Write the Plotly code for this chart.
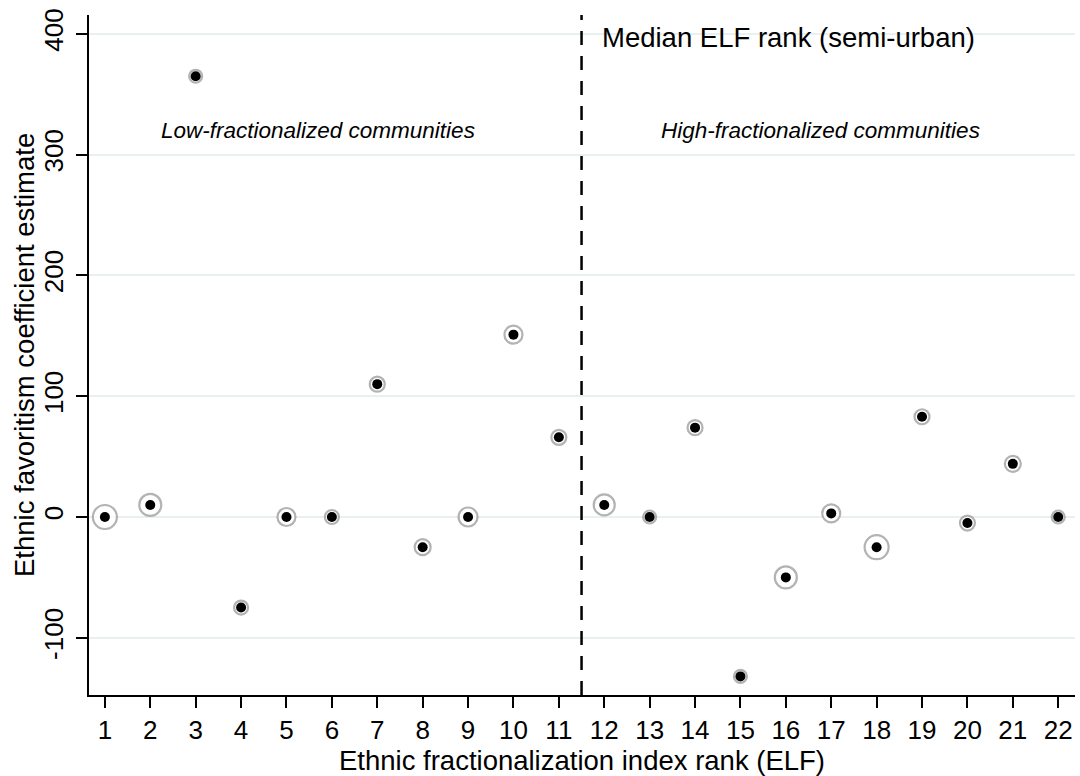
import plotly.graph_objects as go

# Data
elf_rank = list(range(1, 23))
coef_estimate = [0, 10, 365, -75, 0, 0, 110, -25, 0, 151, 66,
                 10, 0, 74, -132, -50, 3, -25, 83, -5, 44, 0]
# relative weight of each estimate (drawn as ring diameter)
weight = [26, 24, 15, 16, 20, 16, 17, 18, 21, 20, 17,
          23, 15, 17, 15, 24, 20, 26, 17, 17, 18, 15]
y_ticks = [-100, 0, 100, 200, 300, 400]
y_tick_labels = ["-100", "0", "100", "200", "300", "400"]
median_rank = 11.5

FONT = "Liberation Sans, Arial, sans-serif"

fig = go.Figure()

# hollow gray rings (weights)
fig.add_trace(go.Scatter(
    x=elf_rank, y=coef_estimate, mode="markers",
    marker=dict(symbol="circle", size=[w - 2 for w in weight], sizemode="diameter",
                color="white", line=dict(color="#939393", width=2.2)),
    hoverinfo="skip", showlegend=False,
))
# black point estimates
fig.add_trace(go.Scatter(
    x=elf_rank, y=coef_estimate, mode="markers",
    marker=dict(symbol="circle", size=10, color="black", line=dict(width=0)),
    showlegend=False,
))

# median line
fig.add_shape(type="line", x0=median_rank, x1=median_rank, xref="x",
              y0=0, y1=1, yref="paper",
              line=dict(color="black", width=2.5, dash="14px,11px"))

fig.add_annotation(x=median_rank, xref="x", xanchor="left", xshift=18,
                   y=1, yref="paper", yanchor="top", yshift=-5,
                   text="Median ELF rank (semi-urban)", showarrow=False,
                   font=dict(family=FONT, size=27.5, color="black"))
fig.add_annotation(x=5.69, xref="x", y=320, yref="y",
                   text="<i>Low-fractionalized communities</i>", showarrow=False,
                   font=dict(family=FONT, size=22.5, color="black"))
fig.add_annotation(x=16.76, xref="x", y=320, yref="y",
                   text="<i>High-fractionalized communities</i>", showarrow=False,
                   font=dict(family=FONT, size=22.5, color="black"))
# y-axis title placed as in the reference
fig.add_annotation(x=-0.0659, xref="paper", y=0.5, yref="paper",
                   xanchor="center", yanchor="middle", textangle=-90,
                   text="Ethnic favoritism coefficient estimate", showarrow=False,
                   font=dict(family=FONT, size=27.5, color="black"))

fig.update_layout(
    width=1080, height=776,
    margin=dict(l=89, r=5, t=15, b=81),
    paper_bgcolor="white", plot_bgcolor="white",
    font=dict(family=FONT, color="black"),
    xaxis=dict(
        range=[0.65, 22.37], tickmode="array", tickvals=elf_rank,
        ticktext=[str(v) for v in elf_rank],
        showgrid=False, zeroline=False,
        showline=True, linecolor="black", linewidth=2,
        ticks="outside", ticklen=11, tickwidth=2, tickcolor="black",
        tickfont=dict(size=26), ticklabelstandoff=0,
        title=dict(text="Ethnic fractionalization index rank (ELF)",
                   font=dict(size=27.5), standoff=0),
    ),
    yaxis=dict(
        range=[-147.4, 415.7], tickmode="array", tickvals=y_ticks,
        ticktext=y_tick_labels,
        showgrid=True, gridcolor="#e8f0f2", gridwidth=2,
        zeroline=False,
        showline=True, linecolor="black", linewidth=2,
        ticks="outside", ticklen=11, tickwidth=2, tickcolor="black",
        tickfont=dict(size=26), tickangle=-90, ticklabelstandoff=3,
    ),
)

fig.write_html("out.html")
